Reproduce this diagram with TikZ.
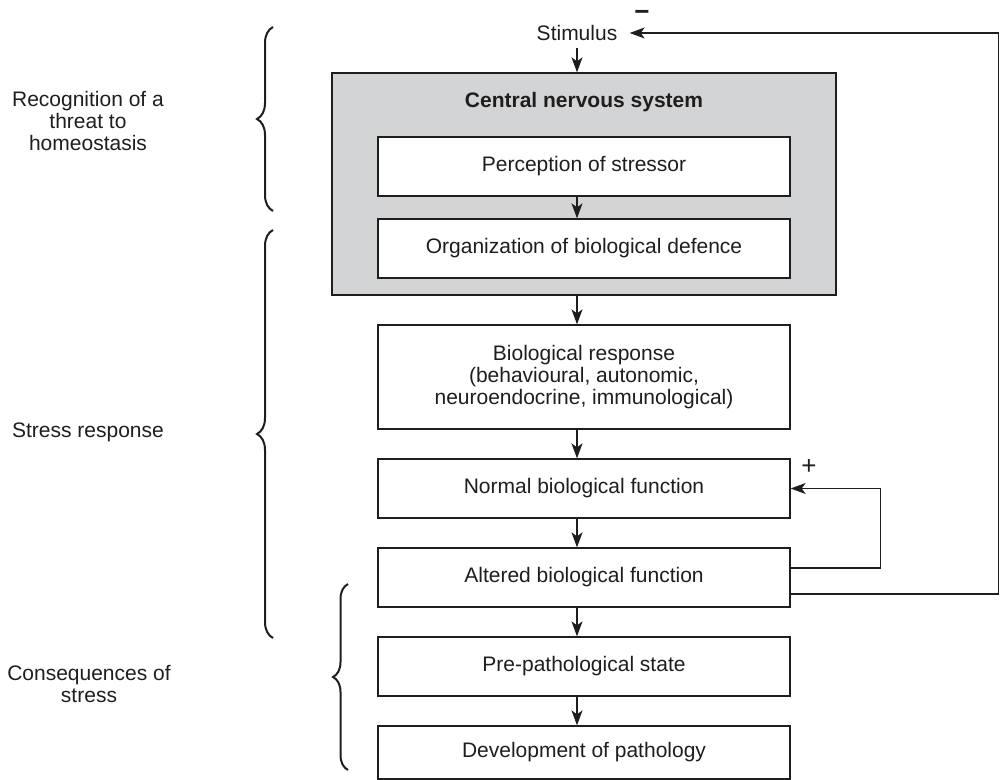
\documentclass[tikz,border=0pt]{standalone}
\usepackage{fontspec}
\setmainfont{Liberation Sans}
\usetikzlibrary{arrows.meta,calc,decorations.pathreplacing}
\definecolor{cnsgray}{RGB}{211,212,214}
\definecolor{ink}{RGB}{30,30,30}

\begin{document}
\begin{tikzpicture}[x=0.5pt,y=-0.5pt,
  every node/.style={font=\fontsize{10.5}{11}\selectfont, text=ink},
  stage/.style={draw=ink, line width=0.65pt, fill=white, minimum width=206pt,
    minimum height=29.5pt, align=center, inner sep=0pt},
  arr/.style={-{Stealth[length=7.5pt,width=5.5pt,inset=2pt]}, draw=ink, line width=0.65pt},
  curly/.style={decorate, decoration={brace, amplitude=#1}, draw=ink, line width=1pt},
  curly/.default=8pt,
  sign/.style={font=\fontsize{13}{13}\selectfont}]
\useasboundingbox (0,0) rectangle (1000,780);

% central nervous system block
\node[draw=ink, line width=0.65pt, fill=cnsgray, minimum width=252pt, minimum height=111pt] (cns) at (584,184) {};
\node[font=\fontsize{10.5}{11}\selectfont\bfseries] (cnstitle) at (584,102) {Central nervous system};

\node[inner xsep=6pt] (stim) at (577,33) {Stimulus};
\node[stage] (perc) at (584,166.5) {Perception of stressor};
\node[stage] (org) at (584,248.5) {Organization of biological defence};
\node[stage, minimum height=52pt] (bio) at (584,377) {Biological response\\(behavioural, autonomic,\\neuroendocrine, immunological)};
\node[stage] (norm) at (584,488.5) {Normal biological function};
\node[stage] (alt) at (584,577.5) {Altered biological function};
\node[stage] (pre) at (584,666.5) {Pre-pathological state};
\node[stage, minimum height=26.5pt] (dev) at (584,752.5) {Development of pathology};

% main chain
\draw[arr] (stim.south) -- (stim |- cns.north);
\draw[arr] (stim |- perc.south) -- (stim |- org.north);
\draw[arr] (stim |- cns.south) -- (stim |- bio.north);
\draw[arr] (stim |- bio.south) -- (stim |- norm.north);
\draw[arr] (stim |- norm.south) -- (stim |- alt.north);
\draw[arr] (stim |- alt.south) -- (stim |- pre.north);
\draw[arr] (stim |- pre.south) -- (stim |- dev.north);

% feedback loops
\draw[arr] ($(alt.east)+(0,-9.5)$) -- ++(90,0) |- (norm.east);
\node[sign] (plus) at (809,467) {+};
\draw[arr] ($(alt.east)+(0,16.5)$) -- ++(208,0) |- (stim.east);
\node[sign] (minus) at (642,15) {\bfseries −};

% braces and phase labels
\draw[curly] (273,211) -- (273,27);
\draw[curly] (273,638) -- (273,230);
\draw[curly=7.5pt] (348,770) -- (348,584);
\node[align=center] (recog) at (88,121) {Recognition of a\\threat to\\homeostasis};
\node[align=center] (sresp) at (88,432) {Stress response};
\node[align=center] (conseq) at (89,684) {Consequences of\\stress};
\end{tikzpicture}
\end{document}
